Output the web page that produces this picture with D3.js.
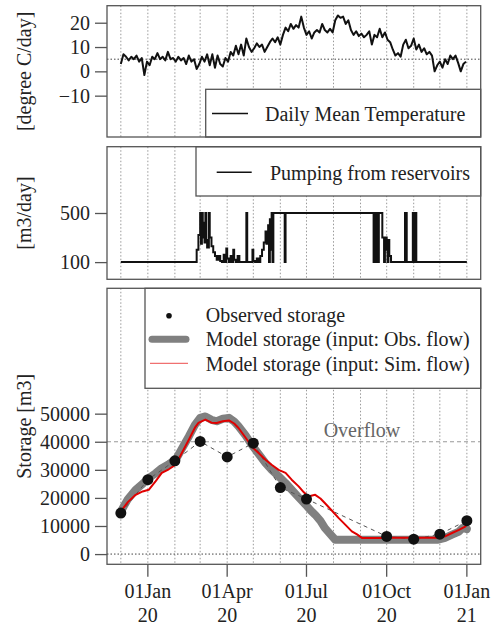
<!DOCTYPE html>
<html>
<head>
<meta charset="utf-8">
<script src="https://cdn.jsdelivr.net/npm/d3@7"></script>
<style>
body { margin: 0; background: #fff; }
svg text { font-family: "Liberation Serif", "Times New Roman", serif; fill: #222; }
</style>
</head>
<body>
<svg id="chart" width="500" height="625"></svg>
<script>
// ---- data ----
const startDay = new Date(2019, 11, 1);
const tempStep = 3; // one value every 3 days from 01 Dec 2019
const tempVal = [3, 7, 6, 4.5, 6, 5, 6.5, 4, 5.5, -1.5,
  4, 2.5, 6, 5, 7.5, 5, 6, 4.5, 8, 5,
  5.5, 4, 6, 4.5, 5.5, 3, 6.5, 4, 5, 1,
  3, 6, 4, 7, 2.5, 7, 1.5, 6.5, 3, 2,
  5.5, 4, 8, 6.5, 10.5, 7, 11, 6.5, 13.5, 10,
  8, 9.5, 11.5, 10, 11, 8, 10, 12, 13.5, 12,
  14, 11, 15, 18, 16.5, 19.5, 17.5, 19, 18, 22.5,
  18, 15, 16.5, 13.5, 16, 17, 16, 19.5, 17, 16,
  17.5, 16, 21, 23, 22, 22.5, 19.5, 21, 17, 15,
  16.5, 14.5, 15.5, 14, 15, 16.5, 11, 15, 14, 17.5,
  14, 16, 13, 12, 9, 6.5, 7.5, 6, 11, 13,
  9.5, 10.5, 13.5, 9, 11, 8, 9.5, 7, 8, 6.5,
  0, 2.5, 4, 1.5, 5, 3, 6.5, 5, 6.5, 3.5,
  0, 3, 4];

const pumpDay = [0, 87, 89, 91, 92, 93, 94, 95, 96, 97, 98, 99, 101, 102, 104, 106, 108, 110, 112, 114,
  116, 118, 119, 121, 122, 124, 126, 127, 129, 130, 132, 134, 136, 144, 145, 151, 152, 154, 156, 158,
  160, 162, 164, 166, 167, 169, 170, 171, 172, 173, 174, 175, 188, 189, 290, 292, 294, 296, 300, 302,
  303, 305, 306, 307, 308, 310, 326, 328, 335, 337, 338, 339, 397];
const pumpVal = [100, 200, 320, 500, 250, 500, 300, 420, 260, 500, 280, 220, 500, 300, 230, 180, 150, 120, 150, 110,
  100, 160, 100, 210, 130, 100, 150, 100, 200, 120, 100, 150, 100, 500, 100, 200, 110, 100, 130, 100,
  150, 200, 260, 350, 250, 400, 100, 450, 200, 500, 100, 500, 100, 500, 100, 500, 100, 500, 300, 100,
  300, 200, 100, 280, 150, 100, 500, 100, 500, 100, 500, 100, 100];

const obsDate = ['2019-12-01', '2020-01-01', '2020-02-01', '2020-03-01', '2020-04-01', '2020-05-01',
  '2020-06-01', '2020-07-01', '2020-10-01', '2020-11-01', '2020-12-01', '2021-01-01'];
const obsVal = [14600, 26500, 33200, 40100, 34600, 39500, 23700, 19600, 6300, 5300, 7100, 11900];

const obsFlowDay = [0, 8, 17, 25, 32, 40, 47, 55, 63, 70, 78, 85, 91, 97, 104, 110, 117, 124, 130, 135,
  143, 150, 158, 166, 173, 181, 189, 196, 204, 212, 218, 223, 229, 234, 240, 246, 300, 364, 372, 380,
  388, 392, 397];
const obsFlowVal = [15200, 19500, 22900, 25000, 27100, 28800, 30600, 32000, 33600, 37500, 41900, 46000, 48500, 49000, 47800, 47300, 48200, 48500, 47200, 45500,
  42300, 39000, 35700, 32400, 30000, 27700, 25300, 22900, 20200, 17600, 15500, 14000, 11800, 9300, 7200, 5100, 5100, 5100, 5800, 6900,
  8000, 9300, 8900];

const simFlowDay = [0, 8, 17, 25, 32, 40, 47, 55, 63, 70, 78, 85, 89, 97, 104, 110, 117, 124, 130, 135,
  143, 150, 158, 166, 173, 181, 189, 196, 204, 210, 215, 223, 229, 234, 242, 250, 258, 265, 271, 277,
  300, 303, 306, 364, 372, 380, 388, 395, 397];
const simFlowVal = [15200, 18500, 21100, 22300, 22900, 26000, 28900, 30200, 31800, 36000, 40700, 45000, 46700, 47900, 46800, 46700, 47300, 47600, 46500, 44900,
  41500, 38400, 36000, 33600, 31800, 30000, 28900, 26500, 24100, 22000, 20500, 21100, 19800, 18200, 15500, 12800, 10300, 8100, 7000, 5700,
  5700, 6600, 5800, 5800, 6300, 7500, 8600, 9800, 10500];

const tempTicks = [-10, 0, 10, 20];
const pumpTicks = [100, 500];
const storTicks = [0, 10000, 20000, 30000, 40000, 50000];
const xTickDates = ['2020-01-01', '2020-04-01', '2020-07-01', '2020-10-01', '2021-01-01'];
const tempThreshold = 5;
const overflowLevel = 40000;

// ---- layout ----
const svg = d3.select('#chart');
const left = 107, right = 480.7;
const panels = [
  { top: 5.7, bottom: 137 },
  { top: 146.7, bottom: 279.3 },
  { top: 288.3, bottom: 564.3 }
];
const dayDate = d => d3.timeDay.offset(startDay, d);
const parse = d3.timeParse('%Y-%m-%d');

const x = d3.scaleTime()
  .domain([new Date(2019, 10, 15, 3), new Date(2021, 0, 16, 21)])
  .range([left, right]);

const yT = d3.scaleLinear().domain([-27, 27]).range([panels[0].bottom, panels[0].top]);
const yP = d3.scaleLinear().domain([-40, 1040]).range([panels[1].bottom, panels[1].top]);
const yS = d3.scaleLinear().domain([-3640, 94640]).range([panels[2].bottom, panels[2].top]);

const months = d3.timeMonth.range(new Date(2019, 11, 1), new Date(2021, 0, 2));

const clip = (id, p) => {
  svg.append('clipPath').attr('id', id)
    .append('rect').attr('x', left).attr('y', p.top)
    .attr('width', right - left).attr('height', p.bottom - p.top);
};
panels.forEach((p, i) => clip('c' + i, p));

const grid = (p) => {
  svg.append('g').selectAll('line').data(months).enter().append('line')
    .attr('x1', d => x(d)).attr('x2', d => x(d))
    .attr('y1', p.top).attr('y2', p.bottom)
    .attr('stroke', '#999').attr('stroke-width', 1).attr('stroke-dasharray', '1.5,2');
};

const legendBox = (p, x0, y1) => {
  svg.append('rect').attr('x', x0).attr('y', p.top)
    .attr('width', right - x0).attr('height', y1 - p.top)
    .attr('fill', '#fff').attr('stroke', '#555').attr('stroke-width', 1.3);
};
const legendBoxBottom = (p, x0, y0) => {
  svg.append('rect').attr('x', x0).attr('y', y0)
    .attr('width', right - x0).attr('height', p.bottom - y0)
    .attr('fill', '#fff').attr('stroke', '#555').attr('stroke-width', 1.3);
};

const yAxis = (scale, ticks, fmt) => {
  const g = svg.append('g').attr('transform', `translate(${left},0)`)
    .call(d3.axisLeft(scale).tickValues(ticks).tickSize(12).tickPadding(5).tickFormat(fmt));
  g.select('.domain').remove();
  g.selectAll('line').attr('stroke', '#555').attr('stroke-width', 1.3);
  g.selectAll('text').attr('font-size', 20).attr('fill', '#222')
    .style('font-family', '"Liberation Serif", serif');
};

const yLabel = (txt, p) => {
  svg.append('text')
    .attr('transform', `translate(31,${(p.top + p.bottom) / 2}) rotate(-90)`)
    .attr('text-anchor', 'middle')
    .attr('font-size', 20)
    .text(txt);
};

const frame = (p) => {
  svg.append('rect').attr('x', left).attr('y', p.top)
    .attr('width', right - left).attr('height', p.bottom - p.top)
    .attr('fill', 'none').attr('stroke', '#555').attr('stroke-width', 1.3);
};

// ---- panel 1: temperature ----
const p1 = panels[0];
grid(p1);
svg.append('line').attr('x1', left).attr('x2', right)
  .attr('y1', yT(tempThreshold)).attr('y2', yT(tempThreshold))
  .attr('stroke', '#444').attr('stroke-dasharray', '1.5,2');
legendBoxBottom(p1, 205.7, 89.3);
svg.append('path')
  .datum(tempVal)
  .attr('clip-path', 'url(#c0)')
  .attr('d', d3.line().x((d, i) => x(dayDate(i * tempStep))).y(d => yT(d)))
  .attr('fill', 'none').attr('stroke', '#111').attr('stroke-width', 2).attr('stroke-linejoin', 'round');
svg.append('line').attr('x1', 212).attr('x2', 248).attr('y1', 113.5).attr('y2', 113.5)
  .attr('stroke', '#111').attr('stroke-width', 1.5);
svg.append('text').attr('x', 265).attr('y', 121).attr('font-size', 20).text('Daily Mean Temperature');
frame(p1);
yAxis(yT, tempTicks, d3.format('d'));
yLabel('[degree C/day]', p1);

// ---- panel 2: pumping ----
const p2 = panels[1];
grid(p2);
legendBox(p2, 196, 196);
svg.append('path')
  .datum(pumpDay.map((d, i) => [d, pumpVal[i]]))
  .attr('clip-path', 'url(#c1)')
  .attr('d', d3.line().curve(d3.curveStepAfter).x(d => x(dayDate(d[0]))).y(d => yP(d[1])))
  .attr('fill', 'none').attr('stroke', '#111').attr('stroke-width', 2);
svg.append('line').attr('x1', 216.7).attr('x2', 251.7).attr('y1', 172.3).attr('y2', 172.3)
  .attr('stroke', '#111').attr('stroke-width', 1.5);
svg.append('text').attr('x', 270).attr('y', 180).attr('font-size', 20).text('Pumping from reservoirs');
frame(p2);
yAxis(yP, pumpTicks, d3.format('d'));
yLabel('[m3/day]', p2);

// ---- panel 3: storage ----
const p3 = panels[2];
grid(p3);
svg.append('line').attr('x1', left).attr('x2', right)
  .attr('y1', yS(0)).attr('y2', yS(0))
  .attr('stroke', '#444').attr('stroke-dasharray', '1.5,2');
svg.append('line').attr('x1', left).attr('x2', right)
  .attr('y1', yS(overflowLevel)).attr('y2', yS(overflowLevel))
  .attr('stroke', '#999').attr('stroke-width', 1.2).attr('stroke-dasharray', '4,3');
svg.append('text').attr('x', 362).attr('y', 437).attr('text-anchor', 'middle')
  .attr('font-size', 20).style('fill', '#666').text('Overflow');
legendBox(p3, 145, 388.3);

const stLine = d3.line().x(d => x(dayDate(d[0]))).y(d => yS(d[1]));
svg.append('path')
  .datum(obsFlowDay.map((d, i) => [d, obsFlowVal[i]]))
  .attr('clip-path', 'url(#c2)')
  .attr('d', stLine)
  .attr('fill', 'none').attr('stroke', '#808080').attr('stroke-width', 8)
  .attr('stroke-linejoin', 'round').attr('stroke-linecap', 'round');
svg.append('path')
  .datum(obsDate.map((d, i) => [parse(d), obsVal[i]]))
  .attr('d', d3.line().x(d => x(d[0])).y(d => yS(d[1])))
  .attr('fill', 'none').attr('stroke', '#555').attr('stroke-width', 1).attr('stroke-dasharray', '4,4');
svg.append('path')
  .datum(simFlowDay.map((d, i) => [d, simFlowVal[i]]))
  .attr('clip-path', 'url(#c2)')
  .attr('d', stLine)
  .attr('fill', 'none').attr('stroke', '#e00000').attr('stroke-width', 2).attr('stroke-linejoin', 'round');
svg.append('g').selectAll('circle')
  .data(obsDate.map((d, i) => [parse(d), obsVal[i]]))
  .enter().append('circle')
  .attr('cx', d => x(d[0])).attr('cy', d => yS(d[1])).attr('r', 5.5)
  .attr('fill', '#111');

// legend entries
svg.append('circle').attr('cx', 169).attr('cy', 315.7).attr('r', 2.8).attr('fill', '#111');
svg.append('line').attr('x1', 152).attr('x2', 186).attr('y1', 339.3).attr('y2', 339.3)
  .attr('stroke', '#808080').attr('stroke-width', 7).attr('stroke-linecap', 'round');
svg.append('line').attr('x1', 150).attr('x2', 188).attr('y1', 363.3).attr('y2', 363.3)
  .attr('stroke', '#f07070').attr('stroke-width', 1.2);
const legTxt = ['Observed storage', 'Model storage (input: Obs. flow)', 'Model storage (input: Sim. flow)'];
svg.append('g').selectAll('text').data(legTxt).enter().append('text')
  .attr('x', 205.7).attr('y', (d, i) => 322 + i * 24.3)
  .attr('font-size', 20).text(d => d);

frame(p3);
yAxis(yS, storTicks, d3.format('d'));
yLabel('Storage [m3]', p3);

// x axis (bottom panel only)
const xt = xTickDates.map(parse);
const xg = svg.append('g');
xg.selectAll('line').data(xt).enter().append('line')
  .attr('x1', d => x(d)).attr('x2', d => x(d))
  .attr('y1', p3.bottom).attr('y2', p3.bottom + 12.5)
  .attr('stroke', '#555').attr('stroke-width', 1.3);
xg.selectAll('.l1').data(xt).enter().append('text')
  .attr('x', d => x(d)).attr('y', 598).attr('text-anchor', 'middle')
  .attr('font-size', 20).text(d => d3.timeFormat('%d%b')(d));
xg.selectAll('.l2').data(xt).enter().append('text')
  .attr('x', d => x(d)).attr('y', 622).attr('text-anchor', 'middle')
  .attr('font-size', 20).text(d => d3.timeFormat('%y')(d));
</script>
</body>
</html>
